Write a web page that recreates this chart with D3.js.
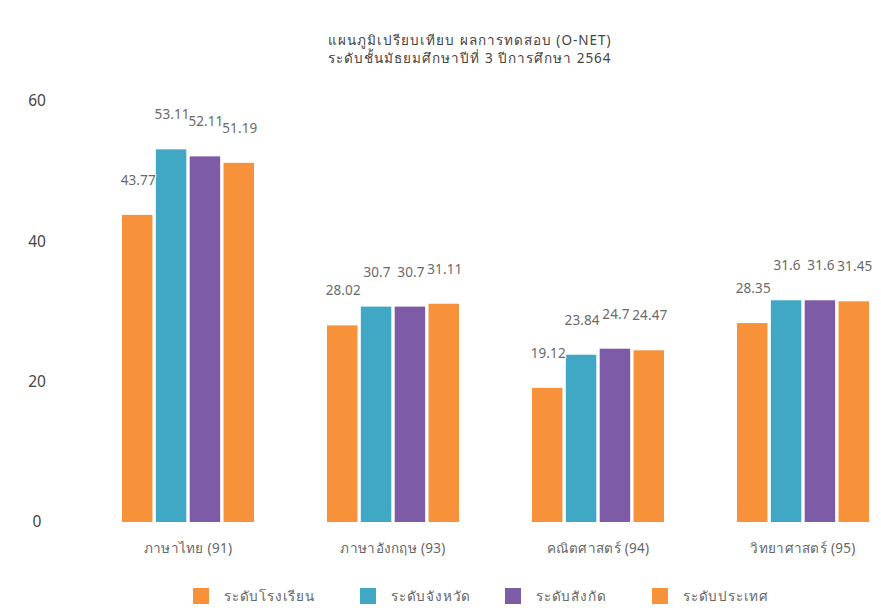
<!DOCTYPE html>
<html>
<head>
<meta charset="utf-8">
<script src="https://cdn.jsdelivr.net/npm/d3@7"></script>
<style>
  body { margin: 0; background: #fff; }
  svg { font-family: "Noto Sans", "DejaVu Sans", sans-serif; }
</style>
</head>
<body>
<svg class="chart" width="881" height="610"></svg>
<script>
// O-NET comparison, grade 9, year 2564

var subjects = ["ภาษาไทย (91)", "ภาษาอังกฤษ (93)", "คณิตศาสตร์ (94)", "วิทยาศาสตร์ (95)"];
var levels = ["ระดับโรงเรียน", "ระดับจังหวัด", "ระดับสังกัด", "ระดับประเทศ"];
var levelColors = ["#f7923a", "#40a8c4", "#7d5ba6", "#f7923a"];

// one array per level, in subject order
var school = [43.77, 28.02, 19.12, 28.35];
var province = [53.11, 30.7, 23.84, 31.6];
var affiliation = [52.11, 30.7, 24.7, 31.6];
var country = [51.19, 31.11, 24.47, 31.45];

var yTicks = [0, 20, 40, 60];
var titleLines = ["แผนภูมิเปรียบเทียบ ผลการทดสอบ (O-NET)", "ระดับชั้นมัธยมศึกษาปีที่ 3 ปีการศึกษา 2564"];

var series = [school, province, affiliation, country];

var svg = d3.select(".chart");

// Title
svg.append("g")
    .selectAll("text")
    .data(titleLines)
    .enter().append("text")
    .attr("x", 470)
    .attr("y", function(d, i) { return 45 + i * 18; })
    .style("text-anchor", "middle")
    .style("font-size", "13.5px")
    .style("letter-spacing", "1px")
    .style("fill", "#444")
    .text(function(d) { return d; });

// Scales
var x = d3.scaleBand()
    .domain(subjects)
    .range([85.5, 905.5])
    .paddingInner(0.356)
    .paddingOuter(0.178);

var xInner = d3.scaleBand()
    .domain(d3.range(levels.length))
    .range([0, x.bandwidth()])
    .paddingInner(0.1);

var y = d3.scaleLinear()
    .domain([0, 60])
    .range([522, 101]);

// y axis - labels only
var yAxis = d3.axisLeft(y)
    .tickValues(yTicks)
    .tickSize(0)
    .tickPadding(0);
var yg = svg.append("g")
    .attr("transform", "translate(37,0)")
    .call(yAxis);
yg.select(".domain").remove();
yg.selectAll("text")
    .style("text-anchor", "middle")
    .style("font-family", "'Noto Sans', sans-serif")
    .style("font-size", "15.5px")
    .style("fill", "#444");

// x axis - labels only
var xAxis = d3.axisBottom(x).tickSize(0).tickPadding(0);
var xg = svg.append("g")
    .attr("transform", "translate(0,543)")
    .call(xAxis);
xg.select(".domain").remove();
xg.selectAll("text")
    .attr("dy", "0.71em")
    .style("font-family", "'Noto Sans', sans-serif")
    .style("font-size", "13.5px")
    .style("letter-spacing", "0.3px")
    .style("fill", "#666");

// Bars
var rows = [];
subjects.forEach(function(s, i) {
    series.forEach(function(arr, j) {
        rows.push({ subject: s, level: j, value: arr[i] });
    });
});

svg.append("g")
    .selectAll("rect")
    .data(rows)
    .enter().append("rect")
    .attr("x", function(d) { return x(d.subject) + xInner(d.level); })
    .attr("y", function(d) { return y(d.value); })
    .attr("width", xInner.bandwidth())
    .attr("height", function(d) { return y(0) - y(d.value); })
    .attr("fill", function(d) { return levelColors[d.level]; });

// Value labels
svg.append("g")
    .selectAll("text")
    .data(rows)
    .enter().append("text")
    .attr("x", function(d) { return x(d.subject) + xInner(d.level) + xInner.bandwidth() / 2 + 1; })
    .attr("y", function(d) { return y(d.value) - 30; })
    .style("text-anchor", "middle")
    .style("font-size", "13.5px")
    .style("letter-spacing", "0.1px")
    .style("fill", "#6a6a6a")
    .style("stroke", "#fff")
    .style("stroke-width", 2)
    .style("paint-order", "stroke")
    .text(function(d) { return d.value; });

// Legend
var legendX = [193, 360, 505, 652];
var legend = svg.append("g")
    .selectAll("g")
    .data(levels)
    .enter().append("g")
    .attr("transform", function(d, i) { return "translate(" + legendX[i] + ",588)"; });
legend.append("rect")
    .attr("width", 16)
    .attr("height", 16)
    .attr("fill", function(d, i) { return levelColors[i]; });
legend.append("text")
    .attr("x", 31)
    .attr("y", 13)
    .style("font-size", "13.5px")
    .style("letter-spacing", "0.8px")
    .style("fill", "#666")
    .text(function(d) { return d; });
</script>
</body>
</html>
